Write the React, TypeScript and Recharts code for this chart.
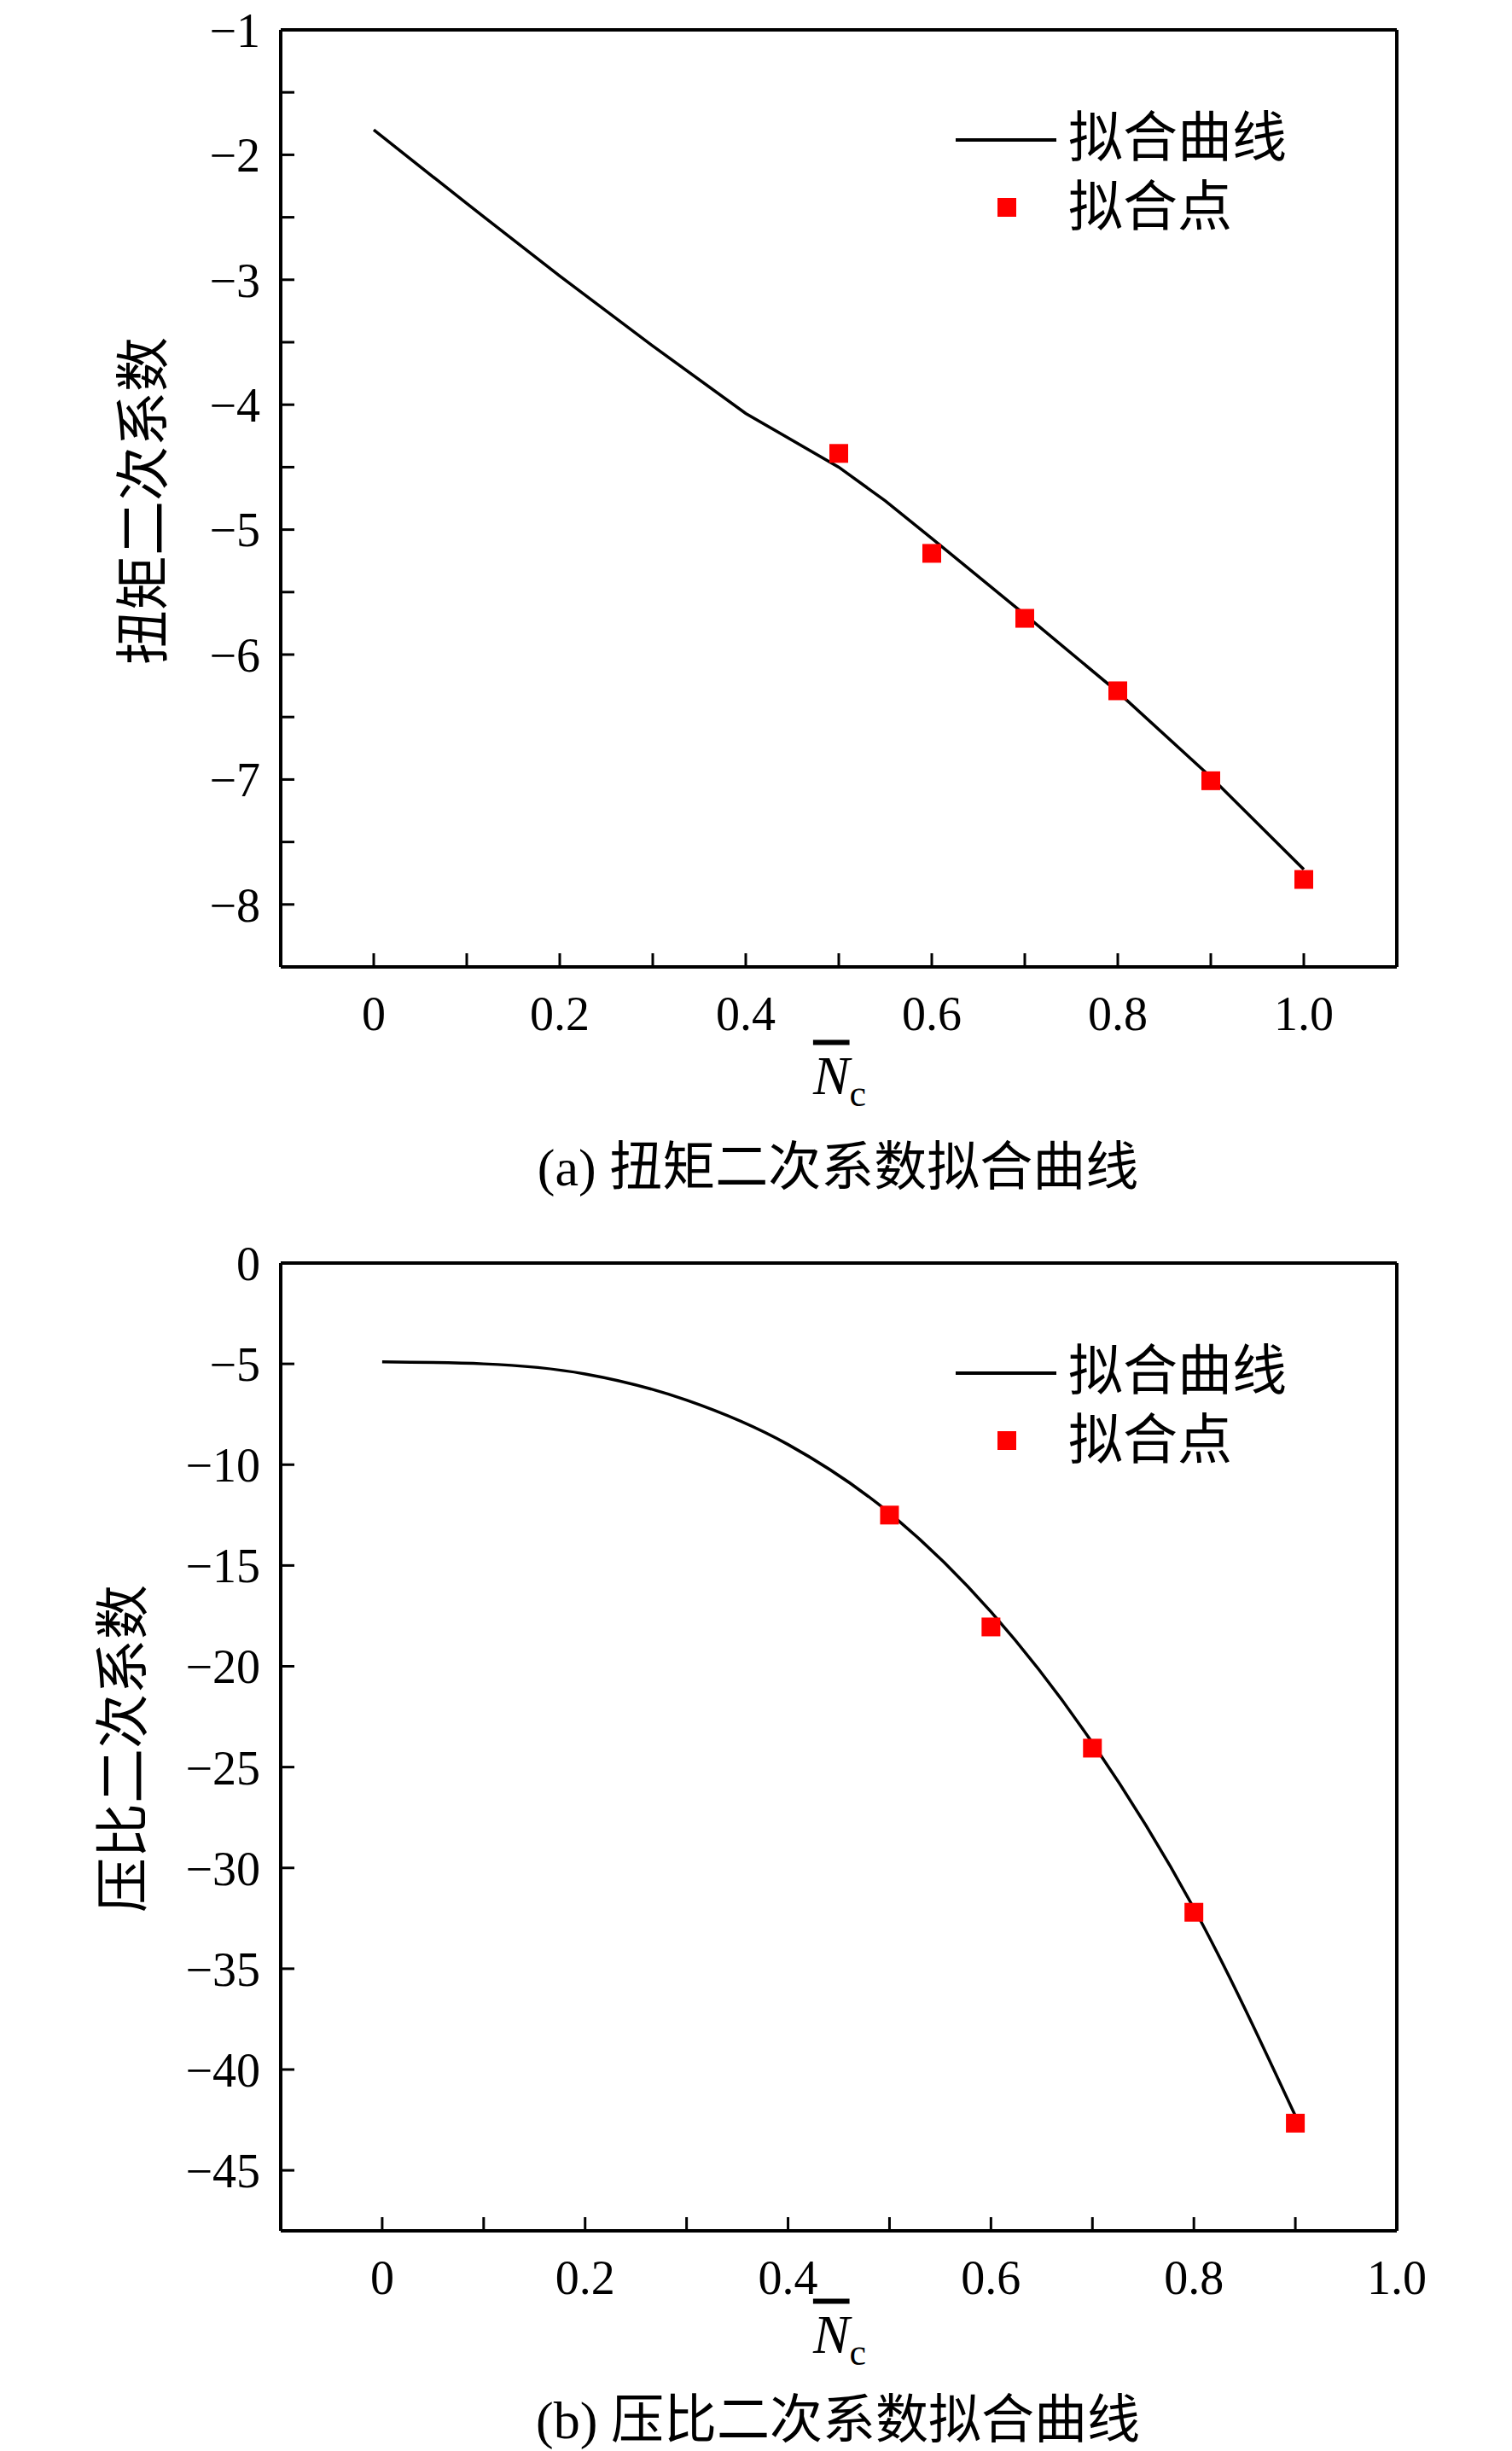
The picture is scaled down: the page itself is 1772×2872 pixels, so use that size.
import React from "react";
import {ComposedChart, Line, Scatter, XAxis, YAxis} from "recharts";

// (a) torque quadratic coefficient
const curveA = [
    {x: 0, y: -1.8}, {x: 0.1, y: -2.39}, {x: 0.2, y: -2.97}, {x: 0.3, y: -3.53}, {x: 0.4, y: -4.07},
    {x: 0.5, y: -4.5}, {x: 0.55, y: -4.77}, {x: 0.6, y: -5.07}, {x: 0.7, y: -5.68},
    {x: 0.8, y: -6.3}, {x: 0.9, y: -6.98}, {x: 1.0, y: -7.72},
];
const pointsA = [
    {x: 0.5, y: -4.39}, {x: 0.6, y: -5.19}, {x: 0.7, y: -5.71},
    {x: 0.8, y: -6.29}, {x: 0.9, y: -7.01}, {x: 1.0, y: -7.8},
];
const xTicksA = [0, 0.2, 0.4, 0.6, 0.8, 1.0];
const yTicksA = [-8, -7, -6, -5, -4, -3, -2, -1];

// (b) compression ratio quadratic coefficient
const curveB = [
    {x: 0, y: -4.9}, {x: 0.1, y: -5.0}, {x: 0.2, y: -5.5}, {x: 0.3, y: -6.8}, {x: 0.4, y: -9.0},
    {x: 0.5, y: -12.4}, {x: 0.6, y: -17.3}, {x: 0.7, y: -23.8}, {x: 0.8, y: -32.0}, {x: 0.9, y: -42.3},
];
const pointsB = [
    {x: 0.5, y: -12.5}, {x: 0.6, y: -18.05}, {x: 0.7, y: -24.06}, {x: 0.8, y: -32.2}, {x: 0.9, y: -42.66},
];
const xTicksB = [0, 0.2, 0.4, 0.6, 0.8, 1.0];
const yTicksB = [-45, -40, -35, -30, -25, -20, -15, -10, -5, 0];

const serif = "'Liberation Serif', 'Times New Roman', serif";
const cjk = "'Liberation Serif', 'Noto Sans CJK SC', serif";
const tickStyle = {fontFamily: serif, fontSize: 56, fill: "#000"};
const fmtX = (v: number) => (v === 0 ? "0" : v.toFixed(1));
const fmtY = (v: number) => (v < 0 ? "\u2212" + Math.abs(v) : String(v));
const isMajor = (list: number[], v: number) => list.some((t) => Math.abs(t - v) < 1e-9);

const Square = (props: any) => (
    <rect x={props.cx - 11} y={props.cy - 11} width={22} height={22} fill="#ff0000" />
);

type PanelProps = {
    top: number; height: number; plotTop: number; plotBottom: number;
    curve: any[]; points: any[]; xDomain: number[]; yDomain: number[];
    xTicks: number[]; yTicks: number[]; yMinor: number[]; xMinor: number[];
    yLabel: string; yLabelX: number; yLabelY: number; caption: string;
    nY: number; capY: number; curveType: any;
};

function Panel(p: PanelProps) {
    const axisW = 150;
    const left = 329, right = 1637;
    const axisLine = {stroke: "#000", strokeWidth: 4};
    const tickLine = {stroke: "#000", strokeWidth: 3};
    return (
        <div style={{position: "absolute", left: 0, top: p.top, width: 1772, height: p.height}}>
            <ComposedChart width={1772} height={p.height}
                margin={{top: p.plotTop - 1, left: left - axisW, right: 1772 - right - 1, bottom: p.height - p.plotBottom - 80}}>
                <XAxis xAxisId="b" type="number" dataKey="x" domain={p.xDomain} ticks={[...p.xTicks, ...p.xMinor]}
                    tickFormatter={(v) => (isMajor(p.xTicks, v) ? fmtX(v) : "")} allowDataOverflow interval={0}
                    axisLine={axisLine} tickLine={tickLine}
                    tickSize={-16} tickMargin={50} tick={tickStyle} height={80} />
                <XAxis xAxisId="t" orientation="top" type="number" dataKey="x" domain={p.xDomain}
                    ticks={[...p.xTicks, ...p.xMinor]} tick={false} allowDataOverflow interval={0}
                    axisLine={axisLine} tickLine={tickLine} tickSize={-16} height={1} />
                <YAxis yAxisId="l" type="number" dataKey="y" domain={p.yDomain} ticks={[...p.yTicks, ...p.yMinor]}
                    tickFormatter={(v) => (isMajor(p.yTicks, v) ? fmtY(v) : "")} allowDataOverflow interval={0}
                    axisLine={axisLine} tickLine={tickLine}
                    tickSize={-16} tickMargin={40} tick={tickStyle} width={axisW} />
                <YAxis yAxisId="r" orientation="right" type="number" dataKey="y" domain={p.yDomain}
                    ticks={[...p.yTicks, ...p.yMinor]} tick={false} allowDataOverflow interval={0}
                    axisLine={axisLine} tickLine={tickLine} tickSize={-16} width={1} />
                <Line xAxisId="b" yAxisId="l" data={p.curve} dataKey="y" type={p.curveType} stroke="#000"
                    strokeWidth={3.5} dot={false} isAnimationActive={false} />
                <Scatter xAxisId="b" yAxisId="l" data={p.points} dataKey="y" shape={Square} isAnimationActive={false} />
            </ComposedChart>
            {/* legend */}
            <div style={{position: "absolute", left: 1120, top: p.plotTop + 127, width: 118, height: 4, background: "#000"}} />
            <div style={{position: "absolute", left: 1252, top: p.plotTop + 82, fontFamily: cjk, fontSize: 64, lineHeight: "90px"}}>拟合曲线</div>
            <div style={{position: "absolute", left: 1169, top: p.plotTop + 197, width: 22, height: 22, background: "#ff0000"}} />
            <div style={{position: "absolute", left: 1252, top: p.plotTop + 163, fontFamily: cjk, fontSize: 64, lineHeight: "90px"}}>拟合点</div>
            {/* y label */}
            <div style={{position: "absolute", left: p.yLabelX, top: p.yLabelY, transform: "translate(-50%,-50%) rotate(-90deg)",
                fontFamily: cjk, fontSize: 64, whiteSpace: "nowrap"}}>{p.yLabel}</div>
            {/* x label */}
            <div style={{position: "absolute", left: 984, top: p.nY, transform: "translate(-50%,-50%)", fontFamily: serif,
                fontSize: 64, fontStyle: "italic", whiteSpace: "nowrap"}}>
                <span style={{textDecoration: "overline"}}>N</span><span style={{fontStyle: "normal", fontSize: 44, verticalAlign: "-14px"}}>c</span>
            </div>
            <div style={{position: "absolute", left: 982, top: p.capY, transform: "translate(-50%,-50%)", fontFamily: cjk,
                fontSize: 62, whiteSpace: "nowrap"}}>{p.caption}</div>
        </div>
    );
}

export default function App() {
    return (
        <div style={{position: "absolute", left: 0, top: 0, width: 1772, height: 2872, background: "#fff"}}>
            <Panel top={0} height={1450} plotTop={35} plotBottom={1133} curve={curveA} points={pointsA}
                xDomain={[-0.1, 1.1]} yDomain={[-8.5, -1]} xTicks={xTicksA} yTicks={yTicksA} curveType="linear"
                xMinor={[0.1, 0.3, 0.5, 0.7, 0.9]} yMinor={[-7.5, -6.5, -5.5, -4.5, -3.5, -2.5, -1.5]}
                yLabel="扭矩二次系数" yLabelX={162} yLabelY={587} caption="(a) 扭矩二次系数拟合曲线"
                nY={1265} capY={1362} />
            <Panel top={1450} height={1422} plotTop={30} plotBottom={1164} curve={curveB} points={pointsB}
                xDomain={[-0.1, 1.0]} yDomain={[-48, 0]} xTicks={xTicksB} yTicks={yTicksB} curveType="monotone"
                xMinor={[0.1, 0.3, 0.5, 0.7, 0.9]} yMinor={[]}
                yLabel="压比二次系数" yLabelX={138} yLabelY={599} caption="(b) 压比二次系数拟合曲线"
                nY={1290} capY={1380} />
        </div>
    );
}
